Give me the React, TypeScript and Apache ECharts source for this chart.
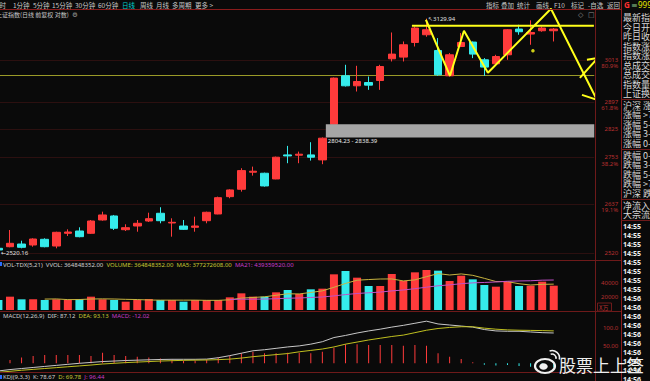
import React, { useEffect, useRef } from 'react';
import * as echarts from 'echarts';

const FONT_CJK = "'Noto Sans CJK SC', 'Noto Sans', sans-serif";
const FONT_NUM = "'Noto Sans', 'DejaVu Sans', sans-serif";

// ---------- data ----------
const SLOT_COUNT = 52;
const slots = Array.from({ length: SLOT_COUNT }, (_, i) => String(i));

const opens = [2531, 2534.7, 2541.0, 2538.7, 2552.1, 2536.3, 2566.3, 2571.8, 2566.3, 2598.1, 2607.8, 2574.9, 2583.7, 2595.7, 2614.3, 2590.9, 2583.7, 2580.6, 2596.4, 2612.6, 2654.8, 2673.0, 2715.5, 2712.9, 2698.6, 2759.3, 2758.5, 2759.3, 2746.6, 2838.4, 2968.7, 2941.4, 2950.3, 2955.8, 3015.8, 3020.5, 3061.7, 3083.6, 3039.1, 2968.7, 3050.3, 3062.8, 3013.0, 3001.9, 3027.0, 3099.9, 3085.6, 3095.0, 3095.0];
const closes = [2527, 2542.7, 2533.3, 2552.8, 2534.7, 2568.7, 2569.4, 2558.3, 2595.7, 2610.2, 2578.3, 2579.7, 2590.2, 2601.3, 2596.4, 2592.6, 2575.8, 2583.7, 2616.7, 2652.3, 2671.3, 2719.5, 2718.0, 2681.2, 2753.4, 2756.7, 2761.1, 2753.4, 2802.3, 2962.4, 2941.4, 2953.1, 2943.2, 2994.4, 3028.9, 3055.2, 3102.8, 3097.9, 2971.5, 3027.0, 3061.7, 3028.9, 2992.7, 3022.2, 3097.9, 3092.2, 3090.1, 3102.8, 3099.9];
const lows = [2520.16, 2533.3, 2530.9, 2534.7, 2533.3, 2530.9, 2559.9, 2556.8, 2564.7, 2596.4, 2574.2, 2571.8, 2570.1, 2593.3, 2590.2, 2558.3, 2574.2, 2570.1, 2590.2, 2611.9, 2650.8, 2667.1, 2706.9, 2679.5, 2697.9, 2738.2, 2738.2, 2744.8, 2735.7, 2838.39, 2939.4, 2925.9, 2930.4, 2930.4, 3008.3, 3008.3, 3050.3, 3077.9, 2968.7, 2966.8, 3048.6, 3017.7, 2968.7, 2999.1, 3013.0, 3083.6, 3055.2, 3092.2, 3064.5];
const highs = [2533, 2574.2, 2548.8, 2554.5, 2554.5, 2570.1, 2575.8, 2580.6, 2598.1, 2618.2, 2610.2, 2587.8, 2598.1, 2615.7, 2628.9, 2602.2, 2598.1, 2606.1, 2618.2, 2654.8, 2673.0, 2725.5, 2729.6, 2714.4, 2754.9, 2782.4, 2767.7, 2791.9, 2804.23, 2964.0, 2999.1, 2996.3, 2966.8, 2999.1, 3090.1, 3064.5, 3107.3, 3129.94, 3074.2, 3031.7, 3088.4, 3064.5, 3017.7, 3027.0, 3099.9, 3112.2, 3125.0, 3107.3, 3102.8];

// volume in 万
const volumes = [15000, 20000, 16000, 16000, 15000, 16000, 15000, 16500, 20000, 16000, 15000, 12500, 15000, 16500, 15000, 15000, 12500, 15000, 15000, 15000, 19000, 25000, 20000, 20000, 26500, 30000, 24000, 31000, 32000, 53500, 58500, 48500, 36000, 36000, 54000, 43500, 56500, 60000, 59000, 43500, 51500, 46000, 37500, 35000, 42500, 36000, 36500, 42500, 36485];

const difValues = [-22, -18, -15, -12, -9, -6, -3, 0, 2.5, 5, 6.5, 8, 9, 10, 11, 11.5, 11.5, 11.5, 12, 16, 22, 29, 36, 39, 43, 47, 50, 55, 62, 74, 80, 87, 93, 98, 104, 109, 115, 121, 113, 110, 107, 104, 97, 93, 92, 92, 90, 88, 87.12];
const deaValues = [-26, -23, -20, -17.5, -15, -12.5, -10, -7.5, -5, -2, 0, 2, 3.5, 5, 6.5, 7.5, 8.5, 9, 9.5, 10.5, 12, 15, 19, 22, 25, 28, 33, 37, 41, 47, 55, 61, 67, 72, 77, 81, 88, 95, 100, 103, 105, 105, 101, 98, 96, 95, 94.5, 94, 93.13];
const macdValues = [6, 9.5, 17, 21, 24, 24, 24, 24, 21, 30.5, 24, 21, 19, 17, 14, 11, 7.5, 8, 11, 17, 21, 28.7, 33.5, 28.7, 28.7, 30.5, 30.5, 29, 33, 45, 54.6, 54.6, 52.6, 52.6, 52.6, 50.6, 52.6, 50.6, 28.7, 19, 12.4, 2.9, -4, -6, -5, -8, -10, -11, -12.02];

const fibPrices = [3013, 2897, 2825, 2753, 2637, 2520];
const fibRatios = ['80.9%', '61.8%', '', '38.2%', '19.1%', ''];
const volumeTicks = [20000, 40000, 60000];
const macdTicks = [50, 100];

const highMark = { slot: '37', price: 3129.94 };
const lowMark = { slot: '0', price: 2520.16 };
const gapRange = [2804.23, 2838.39];
const gapStartSlot = 28.3;
const supportPrice = 2971.5;
const resistancePrice = 3109.4;
const resistanceSpan = [35.74, 51.47];

// hand-drawn annotations: [slot position, price]
const zigzag = [[36.95, 3126.7], [39.03, 2968.7], [40.24, 3095.0], [42.31, 2977.0], [47.76, 3158.7], [51.73, 2903.5]];
const downHead = [[50.44, 2916.9], [51.73, 2903.5], [51.65, 2938.6]];
const upArrow = [[50.26, 2963.2], [51.82, 3018.6]];
const upHead = [[50.87, 3013], [51.82, 3018.6], [51.65, 2990.8]];
const annotationDot = [[46.2, 3038.2]];

const periodTabs = ['1分钟', '5分钟', '15分钟', '30分钟', '60分钟', '日线', '周线', '月线', '多周期', '更多 >'];
const periodX = [13, 33, 52, 75, 98, 122, 140, 156, 172, 195];
const toolTabs = ['指标', '叠加', '统计', '画线', 'F10', '标记', '-自选', '返回'];
const toolX = [486, 501, 517, 536, 554, 571, 588, 607];

const panelTop = ['最新指数', '今日开盘', '昨日收盘', '指数涨跌', '指数涨幅', '总成交额', '总成交量', '指数量比', '上证换手'];
const panelUp = ['沪深 涨家数', '涨幅 >7', '涨幅 5-7', '涨幅 3-5', '涨幅 0-3'];
const panelDown = ['跌幅 0-3', '跌幅 3-5', '跌幅 5-7', '跌幅 >7', '沪深 跌家数'];
const panelFlow = ['净流入额', '大宗流入'];
const tickTimes = ['14:55', '14:55', '14:55', '14:55', '14:55', '14:55', '14:55', '14:55', '14:56', '14:56', '14:56', '14:56', '14:56', '14:56', '14:56', '14:56', '14:56', '14:56'];

// ---------- styles ----------
const RED = '#ff3b3b';
const CYAN = '#35ecec';
const SEP = '#6e1a1a';
const AXIS_RED = '#b83030';
const TXT = '#c8c8c8';
const YEL = '#ffff1a';

function movingAverage(values: number[], n: number) {
  return values.map((_, i) => {
    if (i < n - 1) return '-';
    let s = 0;
    for (let k = i - n + 1; k <= i; k++) s += values[k];
    return s / n;
  });
}

function txt(x: number, y: number, text: string, fill: string, fontSize = 6.5, opts: any = {}) {
  const align = opts.align || 'left';
  return {
    type: 'text', x, y, silent: true, z: 20,
    style: {
      text, fill, fontSize, fontFamily: opts.font || FONT_CJK,
      fontWeight: opts.weight || 'normal',
      align, textAlign: align, verticalAlign: 'middle', textVerticalAlign: 'middle',
    },
  };
}

function hline(y: number, x1: number, x2: number, color = SEP) {
  return { type: 'line', silent: true, z: 15, shape: { x1, y1: y, x2, y2: y }, style: { stroke: color, lineWidth: 1 } };
}
function vline(x: number, y1: number, y2: number, color = SEP) {
  return { type: 'line', silent: true, z: 15, shape: { x1: x, y1, x2: x, y2 }, style: { stroke: color, lineWidth: 1 } };
}

function richTitle(x: number, y: number, parts: [string, string][]) {
  const rich: any = {};
  let text = '';
  parts.forEach(([s, c], k) => {
    rich['p' + k] = { fill: c, color: c, fontSize: 6, fontFamily: FONT_NUM };
    text += `{p${k}|${s}}`;
  });
  return {
    type: 'text', x, y, silent: true, z: 20,
    style: { text, rich, fontSize: 6, fontFamily: FONT_NUM, verticalAlign: 'middle', textVerticalAlign: 'middle' },
  };
}

function buildGraphic() {
  const g: any[] = [];
  // separators
  g.push(hline(9.5, 0, 621, '#8a1c1c'));
  g.push(hline(260.5, 0, 621));
  g.push(hline(311.5, 0, 621));
  g.push(hline(372.5, 0, 621));
  g.push(vline(595.5, 9.5, 381));
  g.push(vline(621.5, 0, 381, '#8a1c1c'));
  [99.5, 149.5, 199.5, 220.5].forEach((y) => g.push(hline(y, 621, 650)));

  // toolbar
  g.push(txt(6, 4.5, '分时', TXT, 6.5, { align: 'right' }));
  periodTabs.forEach((s, k) => g.push(txt(periodX[k], 4.5, s, s === '日线' ? '#00d2d2' : TXT, 6.5)));
  toolTabs.forEach((s, k) => g.push(txt(toolX[k], 4.5, s, TXT, 6.5)));
  g.push(txt(624, 4.5, 'G', '#ff3030', 8, { weight: 'bold', font: FONT_NUM }));
  g.push(txt(631, 4.5, '≡', '#8cc88c', 8, { font: FONT_NUM }));
  g.push(txt(638, 4.5, '999999', '#e8e800', 8, { font: FONT_NUM }));

  // title
  g.push(txt(-4, 14.5, '上证指数(日线 前复权 对数)', TXT, 6));
  g.push(txt(72, 14.5, '⚙', '#a0a0a0', 6.5, { font: FONT_NUM }));
  g.push(txt(578, 14.5, '◇', '#909090', 7, { font: FONT_NUM }));
  g.push(txt(588, 14.5, '□', '#909090', 7, { font: FONT_NUM }));

  // indicator titles
  g.push({ type: 'rect', silent: true, z: 20, shape: { x: 0, y: 262, width: 2, height: 4 }, style: { fill: '#2a6cff' } });
  g.push(richTitle(3, 264.5, [
    ['VOL-TDX(5,21)  VVOL: 364848352.00  ', '#d0d0d0'],
    ['VOLUME: 364848352.00  MA5: 377272608.00  ', '#c8c832'],
    ['MA21: 439359520.00', '#c83cc8'],
  ]));
  g.push(richTitle(3, 316, [
    ['MACD(12,26,9)  DIF: 87.12  ', '#d0d0d0'],
    ['DEA: 93.13  ', '#c8c832'],
    ['MACD: -12.02', '#c83cc8'],
  ]));
  g.push({ type: 'rect', silent: true, z: 20, shape: { x: 0, y: 375, width: 2, height: 4 }, style: { fill: '#2a6cff' } });
  g.push(richTitle(3, 377, [
    ['KDJ(9,3,3)  K: 78.67  ', '#d0d0d0'],
    ['D: 69.78  ', '#c8c832'],
    ['J: 96.44', '#c83cc8'],
  ]));

  // unit box on volume axis
  g.push({ type: 'rect', silent: true, z: 20, shape: { x: 597.5, y: 303, width: 14, height: 8 }, style: { fill: 'none', stroke: SEP, lineWidth: 1 } });
  g.push(txt(599, 307, 'X万', AXIS_RED, 6));

  // right panel
  panelTop.forEach((s, k) => g.push(txt(623, 17.5 + 9.5 * k, s, '#d8d8d8', 9)));
  panelUp.forEach((s, k) => g.push(txt(623, 105 + 9.5 * k, s, '#d8d8d8', 9)));
  panelDown.forEach((s, k) => g.push(txt(623, 155 + 9.5 * k, s, '#d8d8d8', 9)));
  panelFlow.forEach((s, k) => g.push(txt(623, 205 + 9.5 * k, s, '#d8d8d8', 9)));
  tickTimes.forEach((s, k) => g.push(txt(623, 226 + 9.05 * k, s, '#f0f0f0', 7, { weight: 'bold', font: FONT_NUM })));

  // watermark
  g.push({ type: 'ellipse', silent: true, z: 30, shape: { cx: 545, cy: 366, rx: 10, ry: 7 }, style: { fill: 'none', stroke: '#f0f0f0', lineWidth: 2.2 } });
  g.push({ type: 'ellipse', silent: true, z: 30, shape: { cx: 543.5, cy: 366.5, rx: 4.2, ry: 3.3 }, style: { fill: '#f0f0f0' } });
  g.push({ type: 'arc', silent: true, z: 30, shape: { cx: 552, cy: 358, r: 4, startAngle: -1.9, endAngle: 0.2 }, style: { fill: 'none', stroke: '#f0f0f0', lineWidth: 1.6 } });
  g.push({ type: 'arc', silent: true, z: 30, shape: { cx: 552, cy: 358, r: 7.5, startAngle: -1.9, endAngle: 0.2 }, style: { fill: 'none', stroke: '#f0f0f0', lineWidth: 1.6 } });
  g.push(txt(559, 364.5, '股票上上签', '#eeeeee', 17));
  return g;
}

function buildOption() {
  const GL = -7.36, GW = 601.6;
  const ma5 = movingAverage(volumes, 5);
  const ma21 = movingAverage(volumes, 21);
  const candleData = opens.map((o, i) => [o, closes[i], lows[i], highs[i]]);
  const up = (i: number) => closes[i] >= opens[i];
  const yellowLine = (data: number[][]) => ({
    type: 'line', xAxisIndex: 3, yAxisIndex: 0, data, symbol: 'none', clip: false, silent: true, z: 6,
    lineStyle: { color: YEL, width: 2 },
  });
  const hiddenCat = (gridIndex: number) => ({ type: 'category', gridIndex, data: slots, show: false, boundaryGap: true });

  return {
    animation: false,
    backgroundColor: '#0a0a0a',
    grid: [
      { left: GL, top: 10, width: GW, height: 252, outerBoundsMode: 'none' },
      { left: GL, top: 266, width: GW, height: 44, outerBoundsMode: 'none' },
      { left: GL, top: 313, width: GW, height: 59, outerBoundsMode: 'none' },
    ],
    xAxis: [
      hiddenCat(0), hiddenCat(1), hiddenCat(2),
      { type: 'value', gridIndex: 0, min: -0.5, max: SLOT_COUNT - 0.5, show: false },
    ],
    yAxis: [
      { type: 'log', gridIndex: 0, min: 2499.1, max: 3155, show: false, splitLine: { show: false } },
      {
        type: 'value', gridIndex: 1, min: 0, max: 66000, position: 'right',
        axisLine: { show: false }, axisTick: { show: false }, splitLine: { show: false },
        axisLabel: { customValues: volumeTicks, color: AXIS_RED, fontSize: 6, fontFamily: FONT_NUM, align: 'right', margin: 24, showMaxLabel: false, formatter: (v: number) => String(v) },
      },
      {
        type: 'value', gridIndex: 2, min: -25, max: 144.5, position: 'right',
        axisLine: { show: false }, axisTick: { show: false }, splitLine: { show: false },
        axisLabel: { customValues: macdTicks, color: AXIS_RED, fontSize: 6, fontFamily: FONT_NUM, align: 'right', margin: 24, formatter: (v: number) => (v >= 100 ? v.toFixed(1) : v.toFixed(2)) },
      },
    ],
    series: [
      {
        type: 'candlestick', xAxisIndex: 0, yAxisIndex: 0, barWidth: 8, z: 3, silent: true,
        data: candleData,
        itemStyle: { color: RED, color0: CYAN, borderColor: RED, borderColor0: CYAN, borderWidth: 1 },
        markLine: {
          silent: true, symbol: ['none', 'none'], animation: false, z: 1,
          data: [
            ...fibPrices.map((p, k) => ({
              yAxis: p,
              lineStyle: { color: '#2c1010', width: 1, type: 'solid' },
              label: {
                show: true, position: 'end', distance: 4,
                offset: fibRatios[k] ? [0, 3] : [0, 0],
                formatter: fibRatios[k] ? `{v|${p}}\n{v|${fibRatios[k]}}` : `{v|${p}}`,
                rich: { v: { width: 20, align: 'right', color: AXIS_RED, fontSize: 6, lineHeight: 6.5, fontFamily: FONT_NUM } },
              },
            })),
            { yAxis: supportPrice, lineStyle: { color: '#9a9a28', width: 1, type: 'solid' }, label: { show: false } },
          ],
        },
        markPoint: {
          silent: true, symbol: 'circle', symbolSize: 1, itemStyle: { color: 'rgba(0,0,0,0)' },
          data: [
            { coord: [highMark.slot, highMark.price], label: { show: true, position: 'right', distance: 1, formatter: '↖' + highMark.price.toFixed(2), color: '#e0e0e0', fontSize: 6, fontFamily: FONT_NUM } },
            { coord: [lowMark.slot, lowMark.price], label: { show: true, position: 'right', distance: 2, formatter: '←' + lowMark.price.toFixed(2), color: '#e0e0e0', fontSize: 6, fontFamily: FONT_NUM } },
          ],
        },
      },
      {
        ...yellowLine(zigzag),
        markArea: {
          silent: true, z: 4,
          itemStyle: { color: '#a6a6a6', opacity: 1 },
          label: { show: true, position: [2, 14], formatter: `${gapRange[0].toFixed(2)} - ${gapRange[1].toFixed(2)}`, color: '#e8e8e8', fontSize: 6, fontFamily: FONT_NUM },
          data: [[{ coord: [gapStartSlot, gapRange[1]] }, { coord: [SLOT_COUNT - 0.5, gapRange[0]] }]],
        },
      },
      yellowLine(downHead),
      yellowLine(upArrow),
      yellowLine(upHead),
      yellowLine([[resistanceSpan[0], resistancePrice], [resistanceSpan[1], resistancePrice]]),
      {
        type: 'scatter', xAxisIndex: 3, yAxisIndex: 0, data: annotationDot, symbolSize: 3.5, silent: true, z: 6,
        itemStyle: { color: YEL },
      },
      {
        type: 'bar', xAxisIndex: 1, yAxisIndex: 1, barWidth: 8, silent: true,
        data: volumes.map((v, i) => ({ value: v, itemStyle: { color: up(i) ? RED : CYAN } })),
      },
      { type: 'line', xAxisIndex: 1, yAxisIndex: 1, data: ma5, symbol: 'none', silent: true, lineStyle: { color: '#c8b440', width: 1 } },
      { type: 'line', xAxisIndex: 1, yAxisIndex: 1, data: ma21, symbol: 'none', silent: true, lineStyle: { color: '#c050c8', width: 1 } },
      {
        type: 'bar', xAxisIndex: 2, yAxisIndex: 2, barWidth: 1, silent: true,
        data: macdValues.map((v) => ({ value: v, itemStyle: { color: v >= 0 ? RED : CYAN } })),
      },
      { type: 'line', xAxisIndex: 2, yAxisIndex: 2, data: difValues, symbol: 'none', silent: true, lineStyle: { color: '#c8c8c8', width: 1 } },
      { type: 'line', xAxisIndex: 2, yAxisIndex: 2, data: deaValues, symbol: 'none', silent: true, lineStyle: { color: '#c0c020', width: 1 } },
    ],
    graphic: buildGraphic(),
  };
}

export default function App() {
  const ref = useRef<HTMLDivElement>(null);
  useEffect(() => {
    document.body.style.margin = '0';
    document.body.style.background = '#0a0a0a';
    if (!ref.current) return;
    const chart = echarts.init(ref.current, undefined, { renderer: 'svg' });
    chart.setOption(buildOption() as any);
    return () => chart.dispose();
  }, []);
  return (
    <div
      ref={ref}
      style={{ position: 'fixed', left: 0, top: 0, width: 650, height: 381, background: '#0a0a0a' }}
    />
  );
}
